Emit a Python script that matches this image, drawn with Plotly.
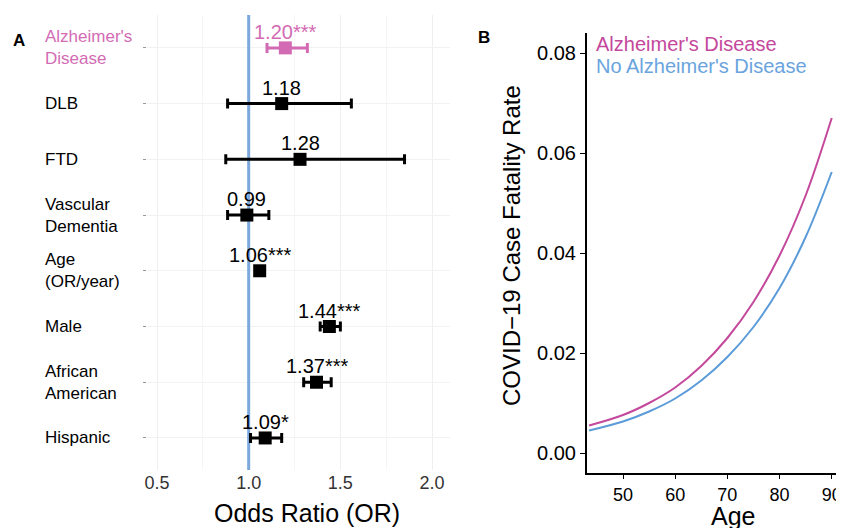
import plotly.graph_objects as go

# ---------------- data ----------------
# Panel A: odds ratios
labels_a = ["Alzheimer's<br>Disease", "DLB", "FTD", "Vascular<br>Dementia", "Age<br>(OR/year)",
            "Male", "African<br>American", "Hispanic"]
or_vals = [1.20, 1.18, 1.28, 0.99, 1.06, 1.44, 1.37, 1.09]
ci_low = [1.10, 0.885, 0.875, 0.885, 1.05, 1.39, 1.30, 1.01]
ci_high = [1.32, 1.56, 1.85, 1.11, 1.07, 1.50, 1.45, 1.18]
sig = ["***", "", "", "", "***", "***", "***", "*"]
xticks_a = [0.5, 1.0, 1.5, 2.0]

# Panel B: predicted case fatality rate by age
ages = [43.5, 50, 55, 60, 65, 70, 75, 80, 85, 90]
cfr_ad = [0.0055, 0.0076, 0.0100, 0.0131, 0.0174, 0.0230, 0.0302, 0.0395, 0.0515, 0.0670]
cfr_no_ad = [0.0045, 0.0063, 0.0083, 0.0109, 0.0145, 0.0192, 0.0252, 0.0330, 0.0432, 0.0562]
yticks_b = [0.00, 0.02, 0.04, 0.06, 0.08]
xticks_b = [50, 60, 70, 80, 90]

# ---------------- style ----------------
OFF = 8                      # page body margin
W, H = 844 - OFF, 528 - OFF  # figure fills the visible window
FONT = "Liberation Sans, Arial, Helvetica, sans-serif"
PINK_TXT = "#d36bb4"
PINK = "#c4489c"
BLUE = "#5b9bd9"
BLUE_TXT = "#6aa4de"
REF_BLUE = "#7ca8dc"

def px(x):
    return (x - OFF) / W

def py(y):
    return 1 - (y - OFF) / H

rows = list(range(1, len(labels_a) + 1))
colors_a = [PINK_TXT] + ["black"] * (len(labels_a) - 1)

fig = go.Figure()

# reference line at OR = 1
fig.add_trace(go.Scatter(x=[1.0, 1.0], y=[0.41, 8.575], mode="lines",
                         line=dict(color=REF_BLUE, width=3), xaxis="x", yaxis="y",
                         showlegend=False, hoverinfo="skip"))

for i in range(len(labels_a)):
    fig.add_trace(go.Scatter(
        x=[or_vals[i]], y=[rows[i]], mode="markers",
        marker=dict(symbol="square", size=13, color=colors_a[i]),
        error_x=dict(type="data", symmetric=False,
                     array=[ci_high[i] - or_vals[i]],
                     arrayminus=[or_vals[i] - ci_low[i]],
                     color=colors_a[i], thickness=3, width=5),
        xaxis="x", yaxis="y", showlegend=False))

# Panel B curves
fig.add_trace(go.Scatter(x=ages, y=cfr_no_ad, mode="lines", line=dict(color=BLUE, width=2, shape="spline"),
                         xaxis="x2", yaxis="y2", showlegend=False))
fig.add_trace(go.Scatter(x=ages, y=cfr_ad, mode="lines", line=dict(color=PINK, width=2, shape="spline"),
                         xaxis="x2", yaxis="y2", showlegend=False))

annotations = []
# value labels
for i in range(len(labels_a)):
    annotations.append(dict(x=or_vals[i], y=rows[i], xref="x", yref="y",
                            text=f"{or_vals[i]:.2f}{sig[i]}", showarrow=False,
                            xanchor="center", yanchor="middle", yshift=16,
                            font=dict(family=FONT, size=20, color=colors_a[i])))
# row labels
for i in range(len(labels_a)):
    annotations.append(dict(x=px(43), y=rows[i], xref="paper", yref="y",
                            text=labels_a[i], showarrow=False, xanchor="left", yanchor="middle",
                            align="left", font=dict(family=FONT, size=17, color=colors_a[i])))
# panel letters
annotations.append(dict(x=px(11), y=py(40), xref="paper", yref="paper", text="<b>A</b>",
                        showarrow=False, xanchor="left", yanchor="middle",
                        font=dict(family=FONT, size=17, color="black")))
annotations.append(dict(x=px(476), y=py(37), xref="paper", yref="paper", text="<b>B</b>",
                        showarrow=False, xanchor="left", yanchor="middle",
                        font=dict(family=FONT, size=17, color="black")))
# axis titles
annotations.append(dict(x=px(307), y=py(513), xref="paper", yref="paper", text="Odds Ratio (OR)",
                        showarrow=False, xanchor="center", yanchor="middle",
                        font=dict(family=FONT, size=25, color="black")))
annotations.append(dict(x=px(733), y=py(516), xref="paper", yref="paper", text="Age",
                        showarrow=False, xanchor="center", yanchor="middle",
                        font=dict(family=FONT, size=25, color="black")))
annotations.append(dict(x=px(512), y=py(246), xref="paper", yref="paper",
                        text="COVID\u221219 Case Fatality Rate", textangle=-90,
                        showarrow=False, xanchor="center", yanchor="middle",
                        font=dict(family=FONT, size=24, color="black")))
# legend text
annotations.append(dict(x=px(594), y=py(44), xref="paper", yref="paper", text="Alzheimer's Disease",
                        showarrow=False, xanchor="left", yanchor="middle",
                        font=dict(family=FONT, size=20, color=PINK)))
annotations.append(dict(x=px(594), y=py(66), xref="paper", yref="paper", text="No Alzheimer's Disease",
                        showarrow=False, xanchor="left", yanchor="middle",
                        font=dict(family=FONT, size=20, color=BLUE_TXT)))

fig.update_layout(
    width=W, height=H, margin=dict(l=0, r=0, t=0, b=0, autoexpand=False),
    paper_bgcolor="white", plot_bgcolor="white",
    font=dict(family=FONT, color="black"),
    annotations=annotations,
    xaxis=dict(domain=[px(147), px(450)], range=[0.4454, 2.098], tickvals=xticks_a,
               ticktext=[f"{v:.1f}" for v in xticks_a], automargin=False,
               showgrid=True, gridcolor="#efefef", gridwidth=1,
               minor=dict(tickvals=[0.75, 1.25, 1.75], showgrid=True, gridcolor="#f5f5f5"),
               zeroline=False, showline=False, ticks="",
               tickfont=dict(family=FONT, size=18, color="#333333"), anchor="y"),
    yaxis=dict(domain=[py(470), py(15)], range=[8.575, 0.41], tickvals=rows,
               ticktext=[""] * len(rows), showgrid=True, gridcolor="#f2f2f2", automargin=False,
               zeroline=False, showline=False, ticks="outside", ticklen=3,
               tickcolor="#999999", anchor="x"),
    xaxis2=dict(domain=[px(587), px(838)], range=[43.1, 91.2], tickvals=xticks_b, automargin=False,
                showgrid=False, zeroline=False, showline=True, linecolor="black", linewidth=2,
                ticks="outside", ticklen=4, tickcolor="black", tickwidth=1,
                ticklabeloverflow="allow",
                tickfont=dict(family=FONT, size=18, color="black"), anchor="y2"),
    yaxis2=dict(domain=[py(473), py(33)], range=[-0.004, 0.084], tickvals=yticks_b,
                ticktext=[f"{v:.2f}" for v in yticks_b], automargin=False,
                showgrid=False, zeroline=False, showline=True, linecolor="black", linewidth=2,
                ticks="outside", ticklen=5, tickcolor="black", tickwidth=1,
                tickfont=dict(family=FONT, size=20, color="black"), anchor="x2"),
)

fig.write_html("out.html")
